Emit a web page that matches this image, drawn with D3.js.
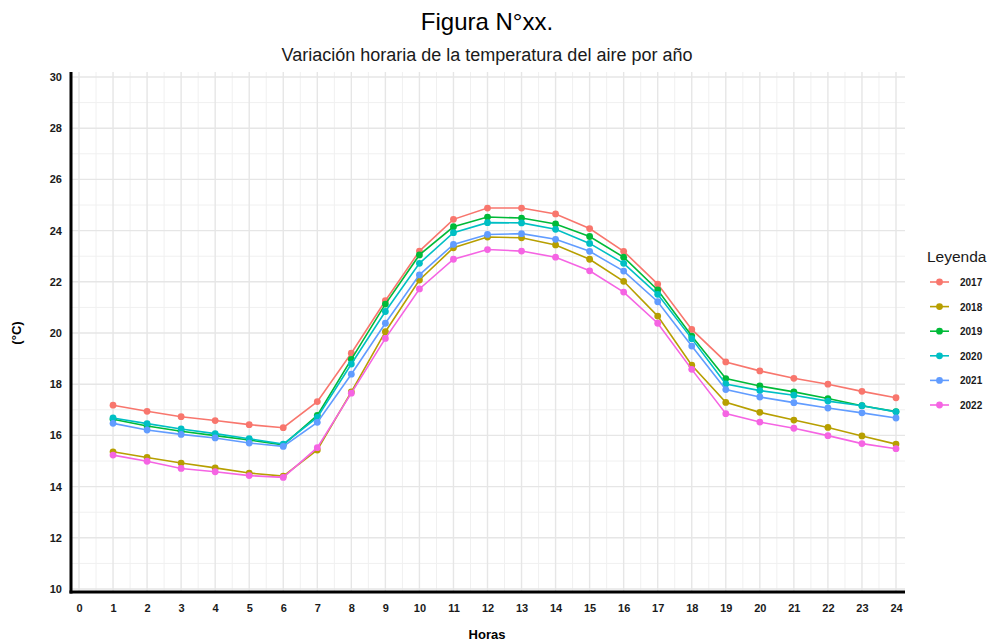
<!DOCTYPE html>
<html>
<head>
<meta charset="utf-8">
<script src="https://cdn.jsdelivr.net/npm/d3@7"></script>
<style>
  body { margin: 0; background: #fff; }
  svg { font-family: "Liberation Sans", Arial, sans-serif; }
</style>
</head>
<body>
<div id="chart"></div>
<script>
// hours on the x axis
const hours = d3.range(1, 25);
const years = ['2017', '2018', '2019', '2020', '2021', '2022'];
const colors = ['#F8766D', '#B79F00', '#00BA38', '#00BFC4', '#619CFF', '#F564E3'];

// hourly air temperature (°C) per year
const t2017 = [17.18, 16.94, 16.73, 16.58, 16.42, 16.30, 17.32, 19.21, 21.26, 23.20, 24.44, 24.88,
               24.88, 24.65, 24.08, 23.19, 21.91, 20.14, 18.87, 18.52, 18.23, 18.00, 17.72, 17.47];
const t2018 = [15.36, 15.14, 14.92, 14.73, 14.53, 14.41, 15.43, 17.70, 20.05, 22.07, 23.33, 23.75,
               23.72, 23.44, 22.88, 22.02, 20.66, 18.74, 17.29, 16.90, 16.60, 16.31, 15.98, 15.66];
const t2019 = [16.63, 16.37, 16.16, 15.99, 15.82, 15.63, 16.78, 18.97, 21.13, 23.05, 24.15, 24.53,
               24.49, 24.26, 23.77, 22.96, 21.68, 19.88, 18.22, 17.93, 17.70, 17.44, 17.16, 16.93];
const t2020 = [16.68, 16.46, 16.25, 16.07, 15.87, 15.66, 16.70, 18.79, 20.84, 22.72, 23.92, 24.31,
               24.30, 24.05, 23.50, 22.72, 21.51, 19.78, 18.01, 17.75, 17.57, 17.34, 17.16, 16.92];
const t2021 = [16.47, 16.21, 16.04, 15.90, 15.70, 15.57, 16.51, 18.39, 20.38, 22.27, 23.46, 23.85,
               23.88, 23.66, 23.19, 22.42, 21.22, 19.49, 17.79, 17.50, 17.28, 17.07, 16.88, 16.68];
const t2022 = [15.23, 14.99, 14.71, 14.58, 14.43, 14.36, 15.52, 17.65, 19.79, 21.72, 22.88, 23.26,
               23.20, 22.96, 22.43, 21.60, 20.38, 18.58, 16.85, 16.52, 16.28, 15.99, 15.68, 15.48];
const seriesValues = [t2017, t2018, t2019, t2020, t2021, t2022];

const xTicks = d3.range(0, 25);
const yTicks = d3.range(10, 31, 2);

const width = 988, height = 641;
const panel = { left: 71, right: 905, top: 72, bottom: 592 };

const svg = d3.select('#chart').append('svg')
    .attr('width', width)
    .attr('height', height);

// scales (0 -> 79px, 24 -> 896px; 10 -> 589px, 30 -> 77px)
const x = d3.scaleLinear().domain([0, 24]).range([79, 896]);
const y = d3.scaleLinear().domain([10, 30]).range([589, 77]);

// grid
const grid = svg.append('g');
const xMinor = d3.range(0.5, 24.5, 1);
const yMinor = d3.range(11, 30, 2);
grid.selectAll('.xminor').data(xMinor).join('line')
    .attr('x1', d => x(d)).attr('x2', d => x(d))
    .attr('y1', panel.top).attr('y2', panel.bottom)
    .attr('stroke', '#f0f0f0').attr('stroke-width', 1);
grid.selectAll('.yminor').data(yMinor).join('line')
    .attr('x1', panel.left).attr('x2', panel.right)
    .attr('y1', d => y(d)).attr('y2', d => y(d))
    .attr('stroke', '#f0f0f0').attr('stroke-width', 1);
grid.selectAll('.xmajor').data(xTicks).join('line')
    .attr('x1', d => x(d)).attr('x2', d => x(d))
    .attr('y1', panel.top).attr('y2', panel.bottom)
    .attr('stroke', '#e6e6e6').attr('stroke-width', 1.4);
grid.selectAll('.ymajor').data(yTicks).join('line')
    .attr('x1', panel.left).attr('x2', panel.right)
    .attr('y1', d => y(d)).attr('y2', d => y(d))
    .attr('stroke', '#e6e6e6').attr('stroke-width', 1.4);

// lines and points
const line = d3.line()
    .x((d, i) => x(hours[i]))
    .y(d => y(d));

const series = svg.append('g').selectAll('g')
    .data(seriesValues)
    .join('g');

series.append('path')
    .attr('d', d => line(d))
    .attr('fill', 'none')
    .attr('stroke', (d, i) => colors[i])
    .attr('stroke-width', 1.6);

series.each(function(vals, si) {
    d3.select(this).selectAll('circle')
        .data(vals)
        .join('circle')
        .attr('cx', (d, i) => x(hours[i]))
        .attr('cy', d => y(d))
        .attr('r', 3.4)
        .attr('fill', colors[si]);
});

// axes
const xAxis = svg.append('g')
    .attr('transform', `translate(0,${panel.bottom})`)
    .call(d3.axisBottom(x).tickValues(xTicks).tickSize(0).tickPadding(12));
xAxis.select('.domain').remove();
xAxis.selectAll('text')
    .attr('font-size', 11).attr('font-weight', 'bold').attr('fill', '#1a1a1a')
    .style('font-family', '"Liberation Sans", Arial, sans-serif');

const yAxis = svg.append('g')
    .attr('transform', `translate(${panel.left},0)`)
    .call(d3.axisLeft(y).tickValues(yTicks).tickSize(0).tickPadding(9));
yAxis.select('.domain').remove();
yAxis.selectAll('text')
    .attr('font-size', 11).attr('font-weight', 'bold').attr('fill', '#1a1a1a')
    .style('font-family', '"Liberation Sans", Arial, sans-serif');

svg.append('line')
    .attr('x1', panel.left).attr('x2', panel.left)
    .attr('y1', panel.top).attr('y2', panel.bottom + 1.5)
    .attr('stroke', '#000').attr('stroke-width', 3);
svg.append('line')
    .attr('x1', panel.left - 1.5).attr('x2', panel.right)
    .attr('y1', panel.bottom).attr('y2', panel.bottom)
    .attr('stroke', '#000').attr('stroke-width', 3);

// titles
svg.append('text')
    .attr('x', 487).attr('y', 30)
    .attr('text-anchor', 'middle')
    .attr('font-size', 24)
    .text('Figura N°xx.');
svg.append('text')
    .attr('x', 487).attr('y', 61)
    .attr('text-anchor', 'middle')
    .attr('font-size', 18).attr('fill', '#1a1a1a')
    .text('Variación horaria de la temperatura del aire por año');

svg.append('text')
    .attr('x', 487).attr('y', 639)
    .attr('text-anchor', 'middle')
    .attr('font-size', 13).attr('font-weight', 'bold')
    .text('Horas');
svg.append('text')
    .attr('transform', 'translate(21,333) rotate(-90)')
    .attr('text-anchor', 'middle')
    .attr('font-size', 13).attr('font-weight', 'bold')
    .text('(°C)');

// legend
const legend = svg.append('g');
legend.append('text')
    .attr('x', 927).attr('y', 262)
    .attr('font-size', 15.5).attr('fill', '#1a1a1a')
    .text('Leyenda');
const items = legend.selectAll('.item')
    .data(years)
    .join('g')
    .attr('transform', (d, i) => `translate(0,${282 + i * 24.6})`);
items.append('line')
    .attr('x1', 930).attr('x2', 949)
    .attr('stroke', (d, i) => colors[i]).attr('stroke-width', 1.6);
items.append('circle')
    .attr('cx', 939.5).attr('r', 3.4)
    .attr('fill', (d, i) => colors[i]);
items.append('text')
    .attr('x', 960).attr('y', 4)
    .attr('font-size', 10).attr('font-weight', 'bold').attr('fill', '#1a1a1a')
    .text(d => d);
</script>
</body>
</html>
